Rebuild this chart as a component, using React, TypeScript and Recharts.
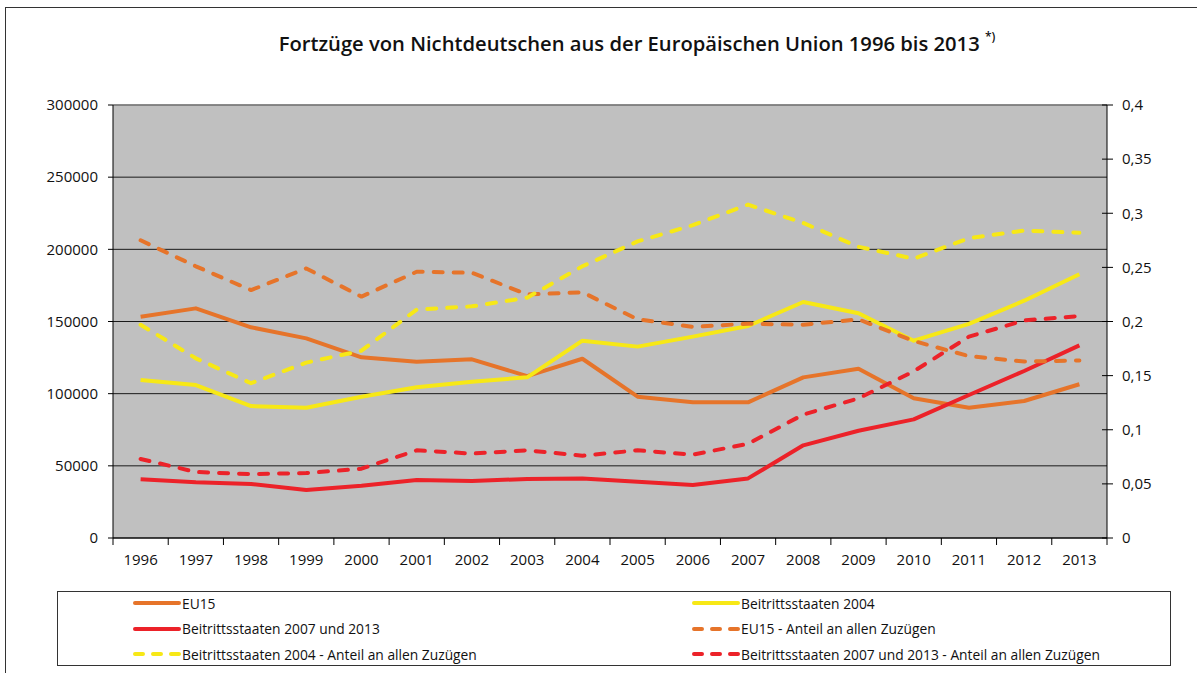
import React from 'react';
import { LineChart, Line, XAxis, YAxis, CartesianGrid, ReferenceLine } from 'recharts';

const years = ['1996', '1997', '1998', '1999', '2000', '2001', '2002', '2003', '2004', '2005', '2006', '2007', '2008', '2009', '2010', '2011', '2012', '2013'];
const eu15 = [153300, 159100, 146000, 138300, 125200, 122100, 123800, 112200, 124200, 97900, 94000, 94000, 111300, 117300, 96800, 90300, 94900, 106500];
const b2004 = [109500, 106000, 91400, 90300, 97900, 104400, 108300, 111300, 136700, 132600, 139500, 146900, 163500, 155700, 136700, 148300, 164400, 182700];
const b2007 = [40700, 38600, 37400, 33300, 36200, 40200, 39500, 40900, 41300, 39000, 36700, 41300, 64200, 74300, 82200, 99100, 115700, 133500];
const eu15Share = [0.275, 0.251, 0.229, 0.249, 0.223, 0.246, 0.245, 0.225, 0.227, 0.202, 0.195, 0.198, 0.197, 0.202, 0.182, 0.168, 0.163, 0.164];
const b2004Share = [0.197, 0.166, 0.143, 0.162, 0.173, 0.211, 0.214, 0.222, 0.251, 0.274, 0.289, 0.308, 0.291, 0.269, 0.258, 0.277, 0.284, 0.282];
const b2007Share = [0.073, 0.061, 0.059, 0.060, 0.064, 0.081, 0.078, 0.081, 0.076, 0.081, 0.077, 0.087, 0.114, 0.129, 0.154, 0.186, 0.201, 0.205];

const leftTicks = [0, 50000, 100000, 150000, 200000, 250000, 300000];
const rightTicks = [0, 0.05, 0.1, 0.15, 0.2, 0.25, 0.3, 0.35, 0.4];

const ORANGE = '#E6742A';
const YELLOW = '#F7E816';
const RED = '#EC2229';

const series = [
  { key: 'eu15', name: 'EU15', values: eu15, color: ORANGE, axis: 'left', dashed: false },
  { key: 'b2004', name: 'Beitrittsstaaten 2004', values: b2004, color: YELLOW, axis: 'left', dashed: false },
  { key: 'b2007', name: 'Beitrittsstaaten 2007 und 2013', values: b2007, color: RED, axis: 'left', dashed: false },
  { key: 'eu15Share', name: 'EU15 - Anteil an allen Zuzügen', values: eu15Share, color: ORANGE, axis: 'right', dashed: true },
  { key: 'b2004Share', name: 'Beitrittsstaaten 2004 - Anteil an allen Zuzügen', values: b2004Share, color: YELLOW, axis: 'right', dashed: true },
  { key: 'b2007Share', name: 'Beitrittsstaaten 2007 und 2013 - Anteil an allen Zuzügen', values: b2007Share, color: RED, axis: 'right', dashed: true },
];

const data = years.map((y, i) => {
  const row: Record<string, string | number> = { year: y };
  series.forEach((s) => { row[s.key] = s.values[i]; });
  return row;
});

const W = 1197;
const H = 673;
const PLOT_LEFT = 113;
const PLOT_RIGHT = 1107;
const HALF_BAND = (PLOT_RIGHT - PLOT_LEFT) / years.length / 2;
const FONT = '"Open Sans", "Noto Sans", sans-serif';
const DASH = '9 11';

const XTick = (props: any) => {
  const { x, y, payload, index } = props;
  const y0 = y - 11;
  return (
    <g>
      <line x1={x - HALF_BAND} x2={x - HALF_BAND} y1={y0} y2={y0 + 7} stroke="#000" strokeWidth={1} />
      {index === years.length - 1 && (
        <line x1={x + HALF_BAND} x2={x + HALF_BAND} y1={y0} y2={y0 + 7} stroke="#000" strokeWidth={1} />
      )}
      <text x={x} y={y0 + 27} textAnchor="middle" fontSize={15} fontFamily={FONT} fill="#111">
        {payload.value}
      </text>
    </g>
  );
};

const RightTick = (props: any) => {
  const { x, y, payload } = props;
  return (
    <g>
      <line x1={x - 20} x2={x - 15} y1={y} y2={y} stroke="#000" strokeWidth={1} />
      <text x={x} y={y} dy="0.355em" textAnchor="start" fontSize={15} fontFamily={FONT} fill="#111">
        {String(payload.value).replace('.', ',')}
      </text>
    </g>
  );
};

const Swatch = ({ color, dashed }: { color: string; dashed: boolean }) => (
  <svg width={48} height={8} style={{ display: 'block' }}>
    <line x1={2} x2={46} y1={4} y2={4} stroke={color} strokeWidth={4} strokeLinecap="round" strokeDasharray={dashed ? '8 10' : undefined} />
  </svg>
);

export default function App() {
  const rows = [0, 1, 2];
  return (
    <div style={{ position: 'absolute', left: 0, top: 0, width: W, height: H, background: '#fff', overflow: 'hidden' }}>
      <div style={{ position: 'absolute', left: 5, top: 7, width: W + 20, height: H + 20, borderLeft: '1.5px solid #333', borderTop: '1.5px solid #333' }} />
      <div
        style={{
          position: 'absolute', left: 0, width: 1274, top: 30, textAlign: 'center', whiteSpace: 'nowrap',
          fontFamily: FONT, fontWeight: 600, fontSize: 20.2, color: '#111', lineHeight: '26px',
        }}
      >
        Fortzüge von Nichtdeutschen aus der Europäischen Union 1996 bis 2013{' '}
        <sup style={{ fontSize: 12, verticalAlign: 'top', position: 'relative', top: -6 }}>*)</sup>
      </div>
      <div style={{ position: 'absolute', left: 0, top: 0 }}>
        <LineChart width={W} height={H} data={data} margin={{ top: 105, right: 0, bottom: 105, left: 0 }}>
          <CartesianGrid yAxisId="left" vertical={false} fill="#C0C0C0" stroke="#1a1a1a" strokeWidth={1} />
          <XAxis
            dataKey="year"
            height={30}
            padding={{ left: HALF_BAND, right: HALF_BAND }}
            axisLine={{ stroke: '#000', strokeWidth: 1 }}
            tickLine={false}
            tickSize={7}
            tickMargin={4}
            tick={<XTick />}
            interval={0}
          />
          <YAxis
            yAxisId="left"
            orientation="left"
            width={113}
            domain={[0, 300000]}
            ticks={leftTicks}
            interval={0}
            axisLine={{ stroke: '#000', strokeWidth: 1 }}
            tickLine={{ stroke: '#000', strokeWidth: 1 }}
            tickSize={5}
            tickMargin={10}
            tick={{ fontSize: 15, fontFamily: FONT, fill: '#111' }}
          />
          <YAxis
            yAxisId="right"
            orientation="right"
            width={90}
            domain={[0, 0.4]}
            ticks={rightTicks}
            interval={0}
            axisLine={{ stroke: '#000', strokeWidth: 1 }}
            tickLine={{ stroke: '#000', strokeWidth: 1 }}
            tickSize={6}
            tickMargin={9}
            tick={<RightTick />}
          />
          <ReferenceLine yAxisId="left" y={300000} stroke="#8a8a8a" strokeWidth={1.5} />
          {series.map((s) => (
            <Line
              key={s.key}
              yAxisId={s.axis}
              dataKey={s.key}
              name={s.name}
              type="linear"
              stroke={s.color}
              strokeWidth={4}
              strokeDasharray={s.dashed ? DASH : undefined}
              strokeLinecap={s.dashed ? 'round' : 'butt'}
              strokeLinejoin="round"
              dot={false}
              activeDot={false}
              isAnimationActive={false}
            />
          ))}
        </LineChart>
      </div>
      <div
        style={{
          position: 'absolute', left: 57, top: 591, width: 1114, height: 75, border: '1.5px solid #333',
          boxSizing: 'border-box', background: '#fff',
        }}
      >
        {rows.map((r) => (
          [0, 1].map((c) => {
            const s = series[r * 2 + c];
            return (
              <div
                key={s.key}
                style={{
                  position: 'absolute', left: c === 0 ? 75 : 634, top: 1 + r * 25.5, height: 20,
                  display: 'flex', alignItems: 'center', whiteSpace: 'nowrap',
                  fontFamily: FONT, fontSize: 13.8, color: '#111',
                }}
              >
                <Swatch color={s.color} dashed={s.dashed} />
                <span style={{ marginLeft: 1 }}>{s.name}</span>
              </div>
            );
          })
        ))}
      </div>
    </div>
  );
}
